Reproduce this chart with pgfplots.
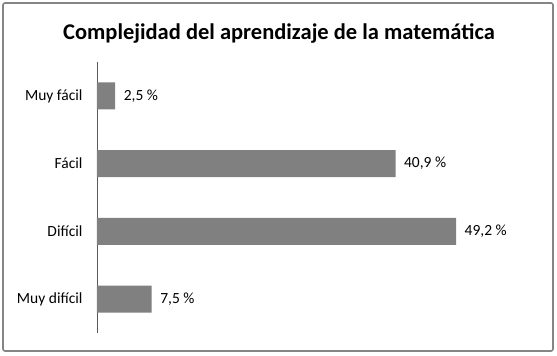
\documentclass[border=0pt]{standalone}
\usepackage{pgfplots}
\pgfplotsset{compat=1.18}
\usepackage{fontspec}
\setmainfont{Carlito}
\definecolor{barg}{HTML}{808080}
\definecolor{frameg}{HTML}{858585}
\begin{document}
\begin{tikzpicture}[x=1pt,y=1pt]
\useasboundingbox (-97,-23) rectangle (460,333);
\draw[frameg, line width=1.6pt, rounded corners=2pt] (-94,-18) rectangle (456,330);
\node[font=\bfseries\fontsize{22.5}{26}\selectfont] at (182,300) {Complejidad del aprendizaje de la matemática};
\begin{axis}[
  at={(0,0)}, anchor=south west,
  scale only axis, width=438pt, height=271pt,
  xmin=0, xmax=60, ymin=-0.5, ymax=3.5,
  y dir=reverse,
  xbar, bar width=27pt,
  axis lines*=left,
  x axis line style={draw=none},
  y axis line style={draw=black!65, line width=0.8pt},
  xtick=\empty,
  ytick={0,1,2,3},
  yticklabels={Muy fácil,Fácil,Difícil,Muy difícil},
  major tick length=0pt,
  yticklabel style={font=\fontsize{15.5}{18}\selectfont, xshift=-11pt},
  /pgf/number format/assume math mode=true,
  nodes near coords={\pgfmathprintnumber[use comma,fixed,precision=1,fixed zerofill]{\pgfplotspointmeta}~\%},
  nodes near coords style={font=\fontsize{15.5}{18}\selectfont, anchor=west, xshift=5pt},
  clip=false,
]
\addplot[fill=barg, draw=none] coordinates {(2.5,0) (40.9,1) (49.2,2) (7.5,3)};
\end{axis}
\end{tikzpicture}
\end{document}
